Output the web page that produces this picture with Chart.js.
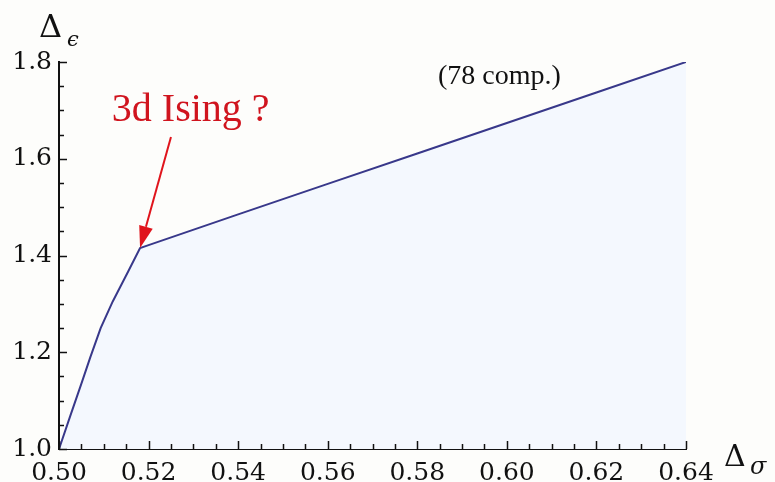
<!DOCTYPE html>
<html>
<head>
<meta charset="utf-8">
<script src="https://cdn.jsdelivr.net/npm/chart.js@4"></script>
<style>
html, body { margin: 0; padding: 0; background: #fdfdfb; }
#wrap { width: 775px; height: 482px; }
</style>
</head>
<body>
<div id="wrap"><canvas id="bound"></canvas></div>
<script>
// boundary curve
const sigma   = [0.500, 0.5025, 0.505, 0.507, 0.5093, 0.512, 0.5155, 0.5181, 0.520, 0.540, 0.560, 0.580, 0.600, 0.620, 0.640];
const epsilon = [1.000, 1.068, 1.135, 1.190, 1.250, 1.305, 1.368, 1.4155, 1.4215, 1.485, 1.548, 1.611, 1.674, 1.737, 1.800];

const xTicks = [0.50, 0.52, 0.54, 0.56, 0.58, 0.60, 0.62, 0.64];
const yTicks = [1.0, 1.2, 1.4, 1.6, 1.8];

// annotation: arrow from label to the kink
const arrowFrom = [0.525, 1.645];
const arrowTo   = [0.5181, 1.4155];
const isingText = '3d Ising ?';
const isingPos  = [0.5118, 1.678];
const compText  = '(78 comp.)';
const compPos   = [0.5846, 1.7545];

const points = sigma.map((s, i) => ({ x: s, y: epsilon[i] }));

const extras = {
    id: 'extras',
    afterDraw(chart) {
        const ctx = chart.ctx;
        const xs = chart.scales.x, ys = chart.scales.y;
        const a = chart.chartArea;
        ctx.save();

        // inward tick marks
        ctx.strokeStyle = '#111';
        ctx.lineWidth = 1.5;
        ctx.beginPath();
        for (let k = 0; k <= 28; k++) {
            const v = 0.5 + k * 0.005;
            const px = Math.round(xs.getPixelForValue(v)) + 0.5;
            const len = k % 4 === 0 ? 8 : 5;
            ctx.moveTo(px, a.bottom);
            ctx.lineTo(px, a.bottom - len);
        }
        for (let k = 0; k <= 16; k++) {
            const v = 1.0 + k * 0.05;
            const py = Math.round(ys.getPixelForValue(v)) + 0.5;
            const len = k % 4 === 0 ? 8 : 5;
            ctx.moveTo(a.left, py);
            ctx.lineTo(a.left + len, py);
        }
        ctx.stroke();

        // arrow
        const x0 = xs.getPixelForValue(arrowFrom[0]), y0 = ys.getPixelForValue(arrowFrom[1]);
        const x1 = xs.getPixelForValue(arrowTo[0]), y1 = ys.getPixelForValue(arrowTo[1]);
        const ang = Math.atan2(y1 - y0, x1 - x0);
        const headLen = 22, headW = 7;
        const bx = x1 - headLen * Math.cos(ang), by = y1 - headLen * Math.sin(ang);
        ctx.strokeStyle = '#e0141c';
        ctx.fillStyle = '#e0141c';
        ctx.lineWidth = 2;
        ctx.beginPath();
        ctx.moveTo(x0, y0);
        ctx.lineTo(bx, by);
        ctx.stroke();
        ctx.beginPath();
        ctx.moveTo(x1, y1);
        ctx.lineTo(bx + headW * Math.sin(ang), by - headW * Math.cos(ang));
        ctx.lineTo(bx - headW * Math.sin(ang), by + headW * Math.cos(ang));
        ctx.closePath();
        ctx.fill();

        // texts
        ctx.textBaseline = 'alphabetic';
        ctx.textAlign = 'left';
        ctx.fillStyle = '#d0141e';
        ctx.font = '40px "Liberation Serif"';
        ctx.fillText(isingText, xs.getPixelForValue(isingPos[0]), ys.getPixelForValue(isingPos[1]));
        ctx.fillStyle = '#111';
        ctx.font = '28px "Liberation Serif"';
        ctx.fillText(compText, xs.getPixelForValue(compPos[0]), ys.getPixelForValue(compPos[1]));

        // axis titles
        ctx.font = '32px "DejaVu Serif"';
        ctx.fillText('Δ', 39, 37);
        ctx.font = 'italic 21px "DejaVu Serif"';
        ctx.fillText('ϵ', 67, 46);
        ctx.font = '30px "DejaVu Serif"';
        ctx.fillText('Δ', 724, 466);
        ctx.font = 'italic 24px "DejaVu Serif"';
        ctx.fillText('σ', 750, 474);
        ctx.restore();
    }
};

new Chart(document.getElementById('bound'), {
    type: 'scatter',
    data: {
        datasets: [{
            data: points,
            showLine: true,
            borderColor: '#38388a',
            borderWidth: 2,
            pointRadius: 0,
            fill: 'start',
            backgroundColor: '#f4f8fe',
            tension: 0
        }]
    },
    options: {
        responsive: true,
        maintainAspectRatio: false,
        animation: false,
        layout: { padding: { top: 62, right: 89, left: 0, bottom: 0 } },
        plugins: { legend: { display: false }, tooltip: { enabled: false } },
        scales: {
            x: {
                type: 'linear',
                min: 0.5,
                max: 0.64,
                afterFit(scale) { scale.height = 33; },
                afterBuildTicks(scale) { scale.ticks = xTicks.map(v => ({ value: v })); },
                grid: { display: false, drawTicks: false },
                border: { display: true, color: '#111', width: 2 },
                ticks: {
                    padding: 9,
                    color: '#111',
                    font: { family: 'DejaVu Serif', size: 25 },
                    maxRotation: 0,
                    autoSkip: false,
                    callback: v => v.toFixed(2)
                }
            },
            y: {
                type: 'linear',
                min: 1.0,
                max: 1.8,
                afterFit(scale) { scale.width = 59; },
                afterBuildTicks(scale) { scale.ticks = yTicks.map(v => ({ value: v })); },
                grid: { display: false, drawTicks: false },
                border: { display: true, color: '#111', width: 2 },
                ticks: {
                    padding: 7,
                    color: '#111',
                    font: { family: 'DejaVu Serif', size: 25 },
                    autoSkip: false,
                    callback: v => v.toFixed(1)
                }
            }
        }
    },
    plugins: [extras]
});
</script>
</body>
</html>
